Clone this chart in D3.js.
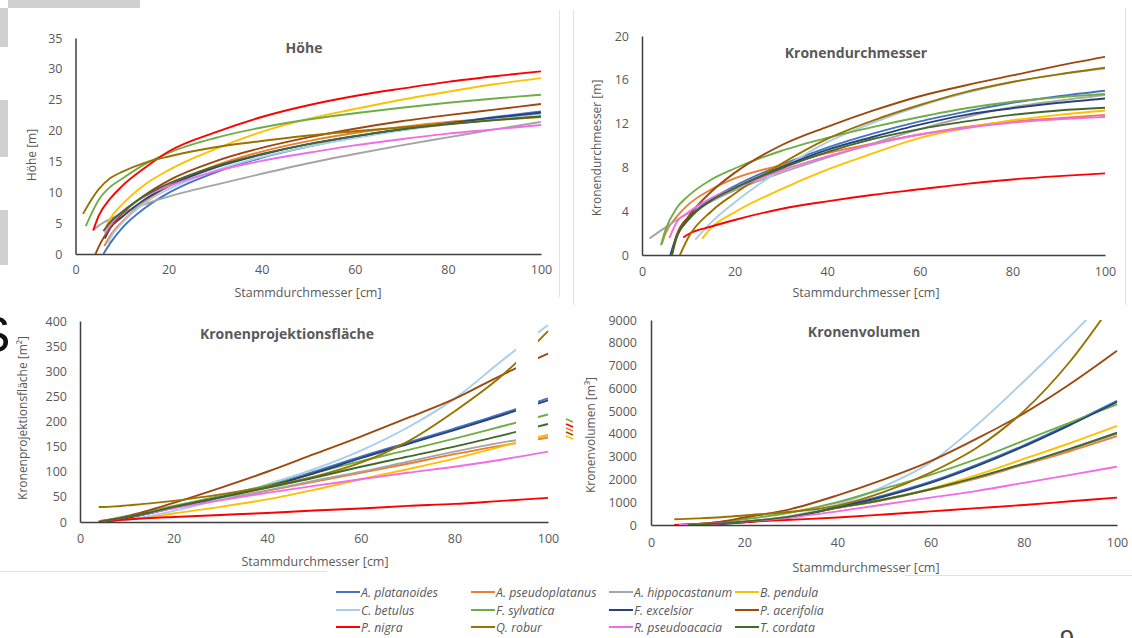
<!DOCTYPE html>
<html><head><meta charset="utf-8">
<script src="https://cdn.jsdelivr.net/npm/d3@7"></script>
<style>
body{margin:0;background:#fff;}
svg{display:block;font-family:"Open Sans","Noto Sans",sans-serif;}
</style>
</head><body>
<svg id="c" width="1132" height="638"></svg>
<script>
// ---------------- data ----------------
const species = ["A. platanoides","A. pseudoplatanus","A. hippocastanum","B. pendula",
  "C. betulus","F. sylvatica","F. excelsior","P. acerifolia",
  "P. nigra","Q. robur","R. pseudoacacia","T. cordata"];
const colors = ["#4472C4","#ED7D31","#A5A5A5","#FFC000","#A9CDEB","#70AD47",
  "#264478","#9E480E","#FF0000","#997300","#F06CE8","#43682B"];
const diameters = [5,7.5,10,15,20,30,40,50,60,70,80,90,100];
const xTicks = [0,20,40,60,80,100];

const hoeheTicks = [0,5,10,15,20,25,30,35];
const hoeheStart = [[6,0],[6.2,1.3],[3.8,3.9],[6.5,4.3],[7,1.8],[2.2,4.5],[6.3,2.5],[4.3,0],[3.8,3.8],[1.6,6.5],[6.3,3.3],[6,3.7]];
const hoeheValues = [
  [null,1.8,4.2,7.5,9.9,13.2,15.6,17.4,18.9,20.1,21.2,22.2,23.1],
  [null,3.0,5.2,8.6,11.0,14.3,16.6,18.3,19.6,20.6,21.4,21.9,22.3],
  [4.6,5.7,6.6,8.1,9.3,11.2,13.0,14.7,16.2,17.6,18.9,20.2,21.4],
  [null,5.8,8.0,11.3,13.6,17.0,19.8,21.9,23.5,25.0,26.3,27.5,28.5],
  [null,2.6,5.0,8.3,10.5,13.5,15.7,17.4,18.8,20.0,21.0,21.9,22.7],
  [8.8,10.9,12.2,14.6,16.4,18.8,20.5,21.8,22.8,23.7,24.5,25.2,25.8],
  [null,4.2,6.0,8.9,11.0,14.0,16.1,17.8,19.1,20.2,21.2,22.1,22.9],
  [1.2,4.3,6.5,9.6,11.9,15.0,17.2,18.9,20.3,21.5,22.5,23.4,24.3],
  [6.2,9.0,11.0,14.0,16.6,19.7,22.2,24.1,25.6,26.8,27.9,28.8,29.6],
  [10.5,12.3,13.3,14.8,15.8,17.3,18.3,19.2,19.9,20.5,21.1,21.7,22.2],
  [null,4.8,6.8,9.4,11.0,13.4,15.1,16.4,17.6,18.6,19.5,20.2,20.9],
  [null,5.2,6.8,9.5,11.4,14.2,16.2,17.8,19.1,20.2,21.0,21.7,22.3]
];

const kdTicks = [0,4,8,12,16,20];
const kdStart = [[6.1,0],[4.3,1.0],[1.6,1.5],[13,1.5],[11.5,1.4],[4.1,0.9],[6.2,0],[6.4,0],[8.9,1.6],[8.2,0],[5.9,1.55],[6.5,0]];
const kdValues = [
  [null,1.8,3.4,5.1,6.3,8.2,9.8,11.1,12.2,13.1,13.9,14.5,15.0],
  [1.9,3.5,4.6,6.0,7.0,8.2,9.3,10.2,11.0,11.7,12.2,12.5,12.8],
  [2.5,3.2,3.8,4.9,5.9,7.5,8.9,10.2,11.5,12.6,13.5,14.1,14.6],
  [null,null,null,2.5,3.9,6.0,7.8,9.3,10.7,11.6,12.3,12.8,13.2],
  [null,null,null,3.0,4.8,7.8,10.3,12.1,13.6,14.8,15.8,16.5,17.0],
  [2.2,4.3,5.4,6.9,7.9,9.5,10.7,11.7,12.6,13.4,14.0,14.4,14.7],
  [null,1.7,3.3,5.0,6.1,8.0,9.6,10.8,11.9,12.8,13.4,13.9,14.3],
  [null,1.8,3.5,5.8,7.5,10.0,11.7,13.2,14.5,15.5,16.4,17.3,18.1],
  [null,null,1.9,2.6,3.2,4.2,4.9,5.5,6.0,6.5,6.9,7.2,7.45],
  [null,null,1.6,4.0,5.6,8.3,10.6,12.3,13.7,14.9,15.8,16.5,17.1],
  [null,3.0,3.9,5.2,6.1,7.7,9.0,10.1,11.0,11.6,12.1,12.4,12.6],
  [null,1.6,3.2,5.0,6.1,7.9,9.4,10.6,11.5,12.2,12.8,13.2,13.45]
];

const kpfTicks = [0,50,100,150,200,250,300,350,400];
const kpfStart = [[6,1],[4.5,2],[4,2],[6,1],[8,1],[5,2],[6,1],[4,0],[4,0],[4,30],[5,2],[5,2]];
const kpfValues = [
  [null,4,8,18,30,50,72,100,130,158,186,215,246],
  [3,6,10,18,28,45,62,80,98,116,135,152,168],
  [3,6,10,18,28,45,63,82,100,120,140,158,172],
  [null,2.5,5,10,17,30,45,64,85,105,126,150,174],
  [null,null,4,12,22,45,75,105,142,188,245,320,392],
  [2,7,12,22,32,52,73,97,121,143,166,190,214],
  [null,4,8,18,29,49,70,97,127,155,183,212,242],
  [2,6,11,24,38,68,100,135,170,207,245,292,335],
  [1,3,5,8,10,14,18,23,27,32,36,42,48],
  [30,31,33,37,42,55,70,90,118,160,220,290,380],
  [2,6,10,18,27,43,58,72,85,98,110,124,140],
  [2,6,10,19,30,49,68,88,110,130,150,172,195]
];

const kvTicks = [0,1000,2000,3000,4000,5000,6000,7000,8000,9000];
const kvStart = [[10,0],[8,0],[8,0],[12,0],[12,0],[6,0],[10,0],[5,0],[5,0],[5,250],[6,0],[8,0]];
const kvValues = [
  [null,null,null,40,120,350,800,1300,1900,2650,3500,4450,5450],
  [null,null,20,70,150,380,750,1100,1550,2050,2650,3250,3900],
  [null,null,20,70,150,380,760,1120,1570,2080,2680,3320,4000],
  [null,null,null,40,120,360,750,1130,1600,2200,2900,3600,4350],
  [null,null,null,40,120,400,900,1700,2750,4400,6300,8300,10400],
  [null,20,50,130,250,550,1000,1600,2200,2900,3700,4500,5300],
  [null,null,null,40,120,340,780,1250,1850,2600,3450,4400,5400],
  [null,20,50,150,330,700,1300,2000,2800,3800,4900,6200,7650],
  [null,15,30,80,130,230,330,460,600,740,880,1040,1200],
  [250,270,290,340,420,580,850,1450,2300,3400,5000,7200,10000],
  [null,10,30,80,150,330,600,900,1200,1500,1850,2200,2560],
  [null,null,20,70,150,380,750,1120,1570,2100,2700,3350,4050]
];

// ---------------- drawing ----------------
const svg = d3.select("#c");
const TXT = "#595959";

// slide artefacts
const art = svg.append("g");
art.append("rect").attr("x",8).attr("y",0).attr("width",132).attr("height",8).attr("fill","#d0d0d0");
art.append("rect").attr("x",0).attr("y",8).attr("width",8).attr("height",39).attr("fill","#d0d0d0");
art.append("rect").attr("x",0).attr("y",100).attr("width",8).attr("height",57).attr("fill","#d0d0d0");
art.append("rect").attr("x",0).attr("y",210).attr("width",8).attr("height",55).attr("fill","#d0d0d0");
const borders = [[559.5,10,559.5,297],[573.5,10,573.5,305],[1125.5,8,1125.5,305],[0,571.5,327,571.5],[905,575.5,1132,575.5]];
borders.forEach(b=>art.append("line").attr("x1",b[0]).attr("y1",b[1]).attr("x2",b[2]).attr("y2",b[3]).attr("stroke","#e2e2e2").attr("stroke-width",1));
art.append("text").attr("x",-23).attr("y",352).attr("font-family","Liberation Sans, Arial").attr("font-size",50).attr("fill","#111").text("S");
art.append("text").attr("x",1067).attr("y",648).attr("text-anchor","middle").attr("font-family","Liberation Sans, Arial").attr("font-size",26).attr("fill","#444").text("9");

function series(start, vals){
  const pts=[start];
  diameters.forEach((d,i)=>{ if(vals[i]!=null && d>start[0]) pts.push([d,vals[i]]); });
  return pts;
}

let clipId=0;
function panel(cfg){
  const x = d3.scaleLinear().domain([0,100]).range([cfg.x0,cfg.x1]);
  const y = d3.scaleLinear().domain([0,cfg.ticks[cfg.ticks.length-1]]).range([cfg.y0,cfg.y1]);
  const g = svg.append("g");
  const id = "clip"+(clipId++);
  svg.append("clipPath").attr("id",id).append("rect")
    .attr("x",cfg.x0).attr("y",cfg.y1).attr("width",cfg.x1-cfg.x0+4).attr("height",cfg.y0-cfg.y1);

  const ya = g.append("g").attr("transform",`translate(${cfg.x0},0)`)
    .call(d3.axisLeft(y).tickValues(cfg.ticks).tickFormat(d3.format("d")).tickSize(0).tickPadding(cfg.yPad));
  ya.select(".domain").attr("stroke","#3f3f3f").attr("stroke-width",1.5);
  ya.selectAll("text").attr("fill",TXT).attr("font-size",12.5).attr("font-family","Open Sans");

  const xa = g.append("g").attr("transform",`translate(0,${cfg.y0})`)
    .call(d3.axisBottom(x).tickValues(xTicks).tickFormat(d3.format("d")).tickSize(0).tickPadding(cfg.xPad));
  xa.select(".domain").attr("stroke","#3f3f3f").attr("stroke-width",1.5);
  xa.selectAll("text").attr("fill",TXT).attr("font-size",12.5).attr("font-family","Open Sans");

  const line = d3.line().x(d=>x(d[0])).y(d=>y(d[1])).curve(d3.curveMonotoneX);
  const lg = g.append("g").attr("clip-path",`url(#${id})`);
  cfg.values.forEach((v,i)=>{
    lg.append("path").attr("d",line(series(cfg.starts[i],v)))
      .attr("fill","none").attr("stroke",colors[i]).attr("stroke-width",1.9);
  });

  g.append("text").attr("x",cfg.title[0]).attr("y",cfg.title[1]).attr("text-anchor","middle")
    .attr("dominant-baseline","central").attr("font-weight","bold").attr("font-size",14)
    .attr("fill",TXT).text(cfg.titleText);
  g.append("text").attr("x",cfg.xt[0]).attr("y",cfg.xt[1]).attr("text-anchor","middle")
    .attr("dominant-baseline","central").attr("font-size",12.5).attr("fill",TXT).text("Stammdurchmesser [cm]");
  g.append("text").attr("transform",`translate(${cfg.yt[0]},${cfg.yt[1]}) rotate(-90)`).attr("text-anchor","middle")
    .attr("dominant-baseline","central").attr("font-size",12).attr("fill",TXT).text(cfg.yTitle);
  return g;
}

panel({x0:75.5,x1:541,y0:254,y1:38,ticks:hoeheTicks,starts:hoeheStart,values:hoeheValues,
  yPad:13,xPad:11,title:[304,47],titleText:"Höhe",xt:[308,292],yt:[31,155],yTitle:"Höhe [m]"});
panel({x0:642,x1:1105,y0:255,y1:36,ticks:kdTicks,starts:kdStart,values:kdValues,
  yPad:13,xPad:12,title:[856,52],titleText:"Kronendurchmesser",xt:[866,292],yt:[596,148],yTitle:"Kronendurchmesser [m]"});
panel({x0:80,x1:548,y0:522,y1:321,ticks:kpfTicks,starts:kpfStart,values:kpfValues,
  yPad:13,xPad:12,title:[287,333],titleText:"Kronenprojektionsfläche",xt:[315,561],yt:[22,418],yTitle:"Kronenprojektionsfläche [m²]"});
panel({x0:651,x1:1117,y0:525,y1:320,ticks:kvTicks,starts:kvStart,values:kvValues,
  yPad:14,xPad:13,title:[864,331],titleText:"Kronenvolumen",xt:[866,567],yt:[590,435],yTitle:"Kronenvolumen [m³]"});

// white gap occluding part of panel 3
svg.append("rect").attr("x",516).attr("y",318).attr("width",22).attr("height",128).attr("fill","#fff");
// small leftover fragments near panel 4
[["#70AD47",419],["#FF0000",424],["#ED7D31",428],["#9E480E",432],["#FFC000",436]].forEach(f=>{
  svg.append("line").attr("x1",566).attr("x2",573).attr("y1",f[1]).attr("y2",f[1]+3).attr("stroke",f[0]).attr("stroke-width",1.6);
});

// legend
const legX = [336,471,609,735];
const legY = [592,610,627];
const leg = svg.append("g");
species.forEach((s,i)=>{
  const cx = legX[i%4], cy = legY[Math.floor(i/4)];
  leg.append("line").attr("x1",cx).attr("x2",cx+24).attr("y1",cy).attr("y2",cy)
    .attr("stroke",colors[i]).attr("stroke-width",2);
  leg.append("text").attr("x",cx+25).attr("y",cy).attr("dominant-baseline","central")
    .attr("font-size",12.3).attr("font-style","italic").attr("fill",TXT).text(s);
});
</script>
</body></html>
